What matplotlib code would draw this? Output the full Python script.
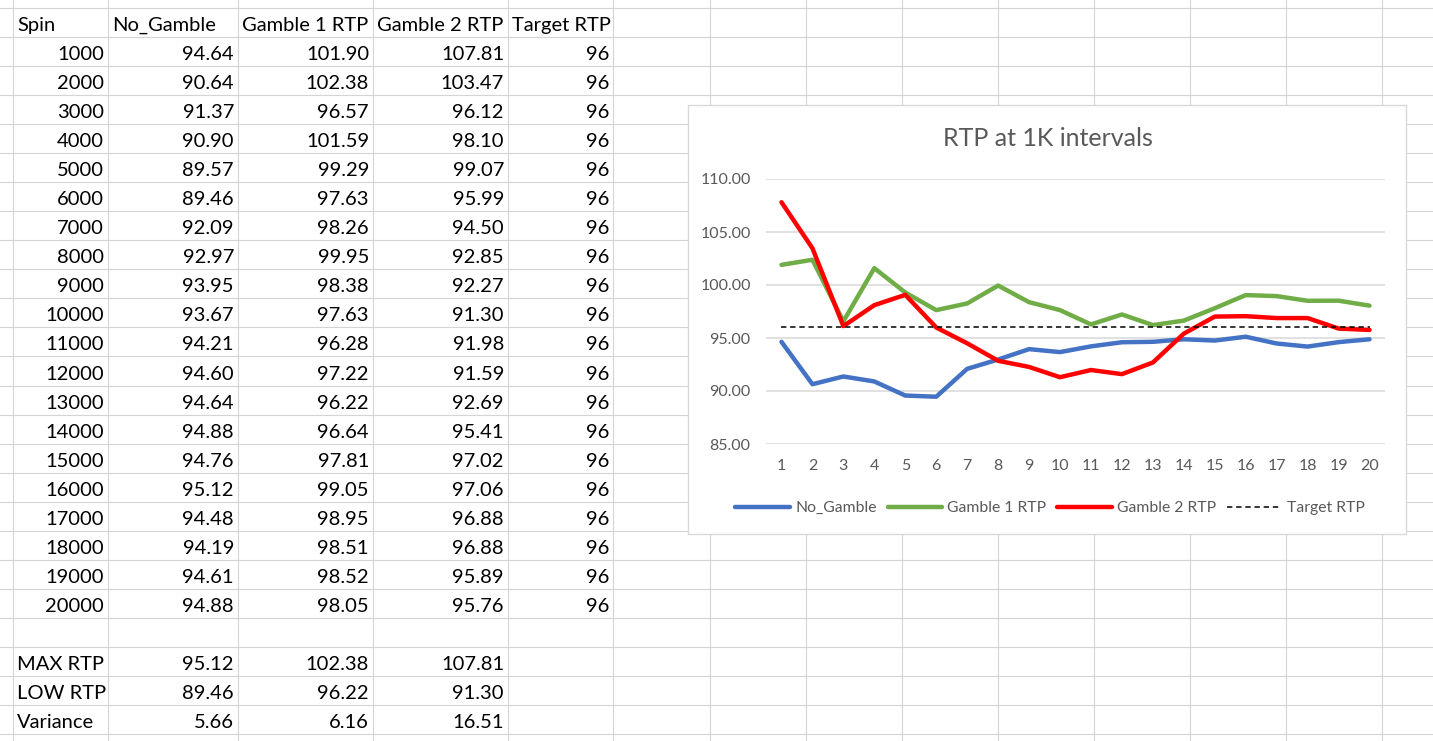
import matplotlib
matplotlib.use("Agg")
import matplotlib.pyplot as plt
from matplotlib.patches import Rectangle

plt.rcParams['font.family'] = ['Lato', 'DejaVu Sans']

# data
spins = [1000, 2000, 3000, 4000, 5000, 6000, 7000, 8000, 9000, 10000,
         11000, 12000, 13000, 14000, 15000, 16000, 17000, 18000, 19000, 20000]
no_gamble = [94.64, 90.64, 91.37, 90.90, 89.57, 89.46, 92.09, 92.97, 93.95, 93.67,
             94.21, 94.60, 94.64, 94.88, 94.76, 95.12, 94.48, 94.19, 94.61, 94.88]
gamble1 = [101.90, 102.38, 96.57, 101.59, 99.29, 97.63, 98.26, 99.95, 98.38, 97.63,
           96.28, 97.22, 96.22, 96.64, 97.81, 99.05, 98.95, 98.51, 98.52, 98.05]
gamble2 = [107.81, 103.47, 96.12, 98.10, 99.07, 95.99, 94.50, 92.85, 92.27, 91.30,
           91.98, 91.59, 92.69, 95.41, 97.02, 97.06, 96.88, 96.88, 95.89, 95.76]
target = [96, 96, 96, 96, 96, 96, 96, 96, 96, 96,
          96, 96, 96, 96, 96, 96, 96, 96, 96, 96]
headers = ['Spin', 'No_Gamble', 'Gamble 1 RTP', 'Gamble 2 RTP', 'Target RTP']
stat_labels = ['MAX RTP', 'LOW RTP', 'Variance']
intervals = list(range(1, 21))

W, H = 1433, 741
fig = plt.figure(figsize=(W / 100, H / 100), dpi=100)

# sheet layer in pixel coords
bg = fig.add_axes([0, 0, 1, 1])
bg.set_xlim(0, W)
bg.set_ylim(H, 0)
bg.axis('off')

col_x = [13, 108, 238, 373, 508, 613, 710, 806, 902, 998, 1094, 1190, 1286, 1382, 1478]
row_h = 29.04
row_y = [8 + row_h * k for k in range(26)]
grid_c = '#D4D4D4'
for x in col_x:
    bg.plot([x, x], [0, H], color=grid_c, lw=0.8)
for y in row_y:
    bg.plot([0, W], [y, y], color=grid_c, lw=0.8)

fs = 14.5
def cell(r, c, s, align='right'):
    yb = row_y[r + 1] - 6
    if align == 'left':
        bg.text(col_x[c] + 4, yb, s, ha='left', va='baseline', fontsize=fs)
    else:
        bg.text(col_x[c + 1] - 4, yb, s, ha='right', va='baseline', fontsize=fs)

for c, h in enumerate(headers):
    cell(0, c, h, 'left')
for i in range(len(spins)):
    cell(i + 1, 0, str(spins[i]))
    cell(i + 1, 1, f'{no_gamble[i]:.2f}')
    cell(i + 1, 2, f'{gamble1[i]:.2f}')
    cell(i + 1, 3, f'{gamble2[i]:.2f}')
    cell(i + 1, 4, str(target[i]))

series = [no_gamble, gamble1, gamble2]
stats = [[max(s) for s in series],
         [min(s) for s in series],
         [max(s) - min(s) for s in series]]
for k, lab in enumerate(stat_labels):
    cell(22 + k, 0, lab, 'left')
    for j, v in enumerate(stats[k]):
        cell(22 + k, j + 1, f'{v:.2f}')

# chart box
bg.add_patch(Rectangle((688, 105), 718, 429, facecolor='white',
                       edgecolor='#D9D9D9', lw=1.0, zorder=5))
bg.text(1048, 138, 'RTP at 1K intervals', ha='center', va='center',
        fontsize=18, color='#595959', zorder=6)

# plot area
x0, x1, ytop, ybot = 766, 1385, 179, 444
ax = fig.add_axes([x0 / W, 1 - ybot / H, (x1 - x0) / W, (ybot - ytop) / H])
ax.set_zorder(10)
ax.patch.set_alpha(0)
ax.plot(intervals, no_gamble, color='#4472C4', lw=3.2, solid_capstyle='round',
        solid_joinstyle='round', label='No_Gamble')
ax.plot(intervals, gamble1, color='#70AD47', lw=3.2, solid_capstyle='round',
        solid_joinstyle='round', label='Gamble 1 RTP')
ax.plot(intervals, gamble2, color='#FF0000', lw=3.2, solid_capstyle='round',
        solid_joinstyle='round', label='Gamble 2 RTP')
ax.plot(intervals, target, color='black', lw=1.1, dashes=(3.5, 2.5),
        label='Target RTP')

ax.set_xlim(0.5, 20.5)
ax.set_ylim(85, 110)
ax.set_yticks([85, 90, 95, 100, 105, 110])
ax.set_yticklabels([f'{v:.2f}' for v in [85, 90, 95, 100, 105, 110]])
ax.set_xticks(intervals)
ax.set_xticklabels([str(i) for i in intervals])
ax.tick_params(axis='both', length=0, labelsize=11.5, colors='#595959')
ax.tick_params(axis='y', pad=11)
ax.tick_params(axis='x', pad=11)
ax.grid(axis='y', color='#D9D9D9', lw=1.1)
ax.set_axisbelow(True)
for sp in ax.spines.values():
    sp.set_visible(False)

leg = ax.legend(loc='center', bbox_to_anchor=(1050 / W, 1 - 508 / H),
                bbox_transform=fig.transFigure, ncol=4, frameon=False,
                fontsize=11.3, handlelength=3.5, handletextpad=0.3,
                columnspacing=0.7)
for t in leg.get_texts():
    t.set_color('#595959')

fig.savefig('out.png', dpi=100, facecolor='white')
